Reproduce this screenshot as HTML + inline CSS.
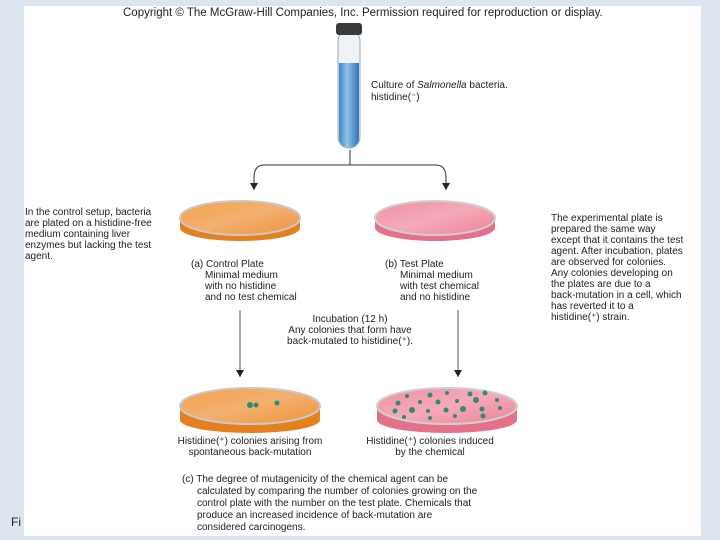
<!DOCTYPE html>
<html><head><style>
body{margin:0;width:720px;height:540px;background:#dce5f0;overflow:hidden;font-family:"Liberation Sans",sans-serif;}
svg{position:absolute;left:0;top:0}
text{font-family:"Liberation Sans",sans-serif;font-size:10px;fill:#222}
</style></head><body>
<svg width="720" height="540" viewBox="0 0 720 540">
<defs>
<linearGradient id="tube" x1="0" x2="1"><stop offset="0" stop-color="#3f86c4"/><stop offset=".4" stop-color="#8fc3ea"/><stop offset="1" stop-color="#2f73b3"/></linearGradient>
<linearGradient id="or" x1="0" y1="0" x2="1" y2="1"><stop offset="0" stop-color="#f5a24a"/><stop offset=".5" stop-color="#f2b070"/><stop offset="1" stop-color="#ee9338"/></linearGradient>
<linearGradient id="pk" x1="0" y1="0" x2="1" y2="1"><stop offset="0" stop-color="#ef8fa4"/><stop offset=".5" stop-color="#f5aab9"/><stop offset="1" stop-color="#ec8097"/></linearGradient>
<marker id="ar" markerWidth="8" markerHeight="8" refX="7" refY="4" orient="auto" markerUnits="userSpaceOnUse"><path d="M0,0 L7,4 L0,8 Z" fill="#222"/></marker>
</defs>
<rect x="24" y="6" width="677" height="530" fill="#fff"/>
<text x="123" y="16" style="font-size:11.5px">Copyright © The McGraw-Hill Companies, Inc. Permission required for reproduction or display.</text>
<!-- tube -->
<rect x="338" y="30" width="22" height="118" rx="11" fill="#eef3f7" stroke="#9aa9b5"/>
<path d="M339,63 H359 V138 A10,10 0 0 1 339,138 Z" fill="url(#tube)"/>
<rect x="336" y="23" width="26" height="12" rx="3" fill="#3a3a3a"/>
<text x="371" y="88">Culture of <tspan font-style="italic">Salmonella</tspan> bacteria.</text>
<text x="371" y="100">histidine(⁻)</text>
<!-- connectors -->
<path d="M350,150 V165" stroke="#333" fill="none"/>
<path d="M350,165 H264 Q254,165 254,178 V190" stroke="#333" fill="none" marker-end="url(#ar)"/>
<path d="M350,165 H436 Q446,165 446,178 V190" stroke="#333" fill="none" marker-end="url(#ar)"/>
<path d="M240,310 V377" stroke="#555" fill="none" marker-end="url(#ar)"/>
<path d="M458,310 V377" stroke="#555" fill="none" marker-end="url(#ar)"/>
<!-- plates top -->
<path d="M180,218 V228 A60,13 0 0 0 300,228 V218" fill="#e5801f"/>
<ellipse cx="240" cy="218" rx="60" ry="17" fill="url(#or)" stroke="#c9c9c9" stroke-width="2"/>
<path d="M375,218 V228 A60,13 0 0 0 495,228 V218" fill="#e5708a"/>
<ellipse cx="435" cy="218" rx="60" ry="17" fill="url(#pk)" stroke="#cfcfcf" stroke-width="2"/>
<!-- plates bottom -->
<path d="M180,408 V420 A70,13 0 0 0 320,420 V408" fill="#e5801f"/>
<ellipse cx="250" cy="406" rx="70" ry="18" fill="url(#or)" stroke="#c9c9c9" stroke-width="2"/>
<path d="M377,408 V420 A70,13 0 0 0 517,420 V408" fill="#e5708a"/>
<ellipse cx="447" cy="406" rx="70" ry="18" fill="url(#pk)" stroke="#cfcfcf" stroke-width="2"/>
<g fill="#2f8a78">
<circle cx="250" cy="405" r="3"/><circle cx="256" cy="405" r="2.5"/><circle cx="277" cy="403" r="2.5"/>
<circle cx="407" cy="396" r="2"/><circle cx="430" cy="395" r="2.5"/><circle cx="447" cy="393" r="2"/><circle cx="470" cy="394" r="2.5"/><circle cx="485" cy="393" r="2.5"/>
<circle cx="398" cy="403" r="2.5"/><circle cx="420" cy="402" r="2"/><circle cx="438" cy="402" r="2.5"/><circle cx="457" cy="401" r="2"/><circle cx="476" cy="400" r="3"/><circle cx="497" cy="400" r="2"/>
<circle cx="395" cy="411" r="2.5"/><circle cx="412" cy="410" r="3"/><circle cx="428" cy="411" r="2"/><circle cx="446" cy="410" r="2.5"/><circle cx="463" cy="409" r="3"/><circle cx="482" cy="409" r="2.5"/><circle cx="500" cy="408" r="2"/>
<circle cx="404" cy="417" r="2"/><circle cx="430" cy="418" r="2"/><circle cx="455" cy="416" r="2"/><circle cx="483" cy="416" r="2.5"/>
</g>
<!-- left text -->
<text x="25" y="215">In the control setup, bacteria</text>
<text x="25" y="226">are plated on a histidine-free</text>
<text x="25" y="237">medium containing liver</text>
<text x="25" y="248">enzymes but lacking the test</text>
<text x="25" y="259">agent.</text>
<!-- right text -->
<text x="551" y="221">The experimental plate is</text>
<text x="551" y="232">prepared the same way</text>
<text x="551" y="243">except that it contains the test</text>
<text x="551" y="254">agent. After incubation, plates</text>
<text x="551" y="265">are observed for colonies.</text>
<text x="551" y="276">Any colonies developing on</text>
<text x="551" y="287">the plates are due to a</text>
<text x="551" y="298">back-mutation in a cell, which</text>
<text x="551" y="309">has reverted it to a</text>
<text x="551" y="320">histidine(⁺) strain.</text>
<!-- labels -->
<text x="191" y="267">(a) Control Plate</text>
<text x="205" y="278">Minimal medium</text>
<text x="205" y="289">with no histidine</text>
<text x="205" y="300">and no test chemical</text>
<text x="385" y="267">(b) Test Plate</text>
<text x="400" y="278">Minimal medium</text>
<text x="400" y="289">with test chemical</text>
<text x="400" y="300">and no histidine</text>
<text x="350" y="322" text-anchor="middle">Incubation (12 h)</text>
<text x="350" y="333" text-anchor="middle">Any colonies that form have</text>
<text x="350" y="344" text-anchor="middle">back-mutated to histidine(⁺).</text>
<text x="250" y="444" text-anchor="middle">Histidine(⁺) colonies arising from</text>
<text x="250" y="455" text-anchor="middle">spontaneous back-mutation</text>
<text x="430" y="444" text-anchor="middle">Histidine(⁺) colonies induced</text>
<text x="430" y="455" text-anchor="middle">by the chemical</text>
<text x="182" y="482">(c)  The degree of mutagenicity of the chemical agent can be</text>
<text x="197" y="494">calculated by comparing the number of colonies growing on the</text>
<text x="197" y="506">control plate with the number on the test plate. Chemicals that</text>
<text x="197" y="518">produce an increased incidence of back-mutation are</text>
<text x="197" y="530">considered carcinogens.</text>
<text x="11" y="526" style="font-size:12px">Fi</text>
</svg>
</body></html>
